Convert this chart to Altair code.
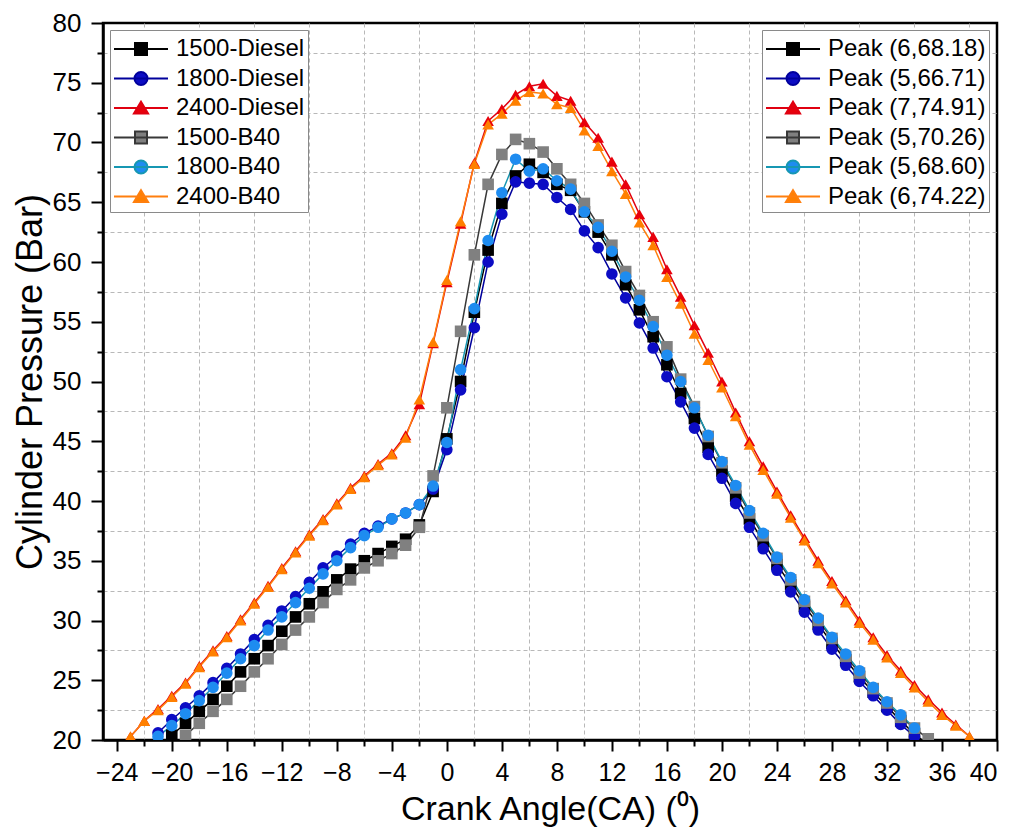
import altair as alt
import pandas as pd

# ---------------- data ----------------
names = ["1500-Diesel", "1800-Diesel", "2400-Diesel", "1500-B40", "1800-B40", "2400-B40"]
peaks = ["Peak (6,68.18)", "Peak (5,66.71)", "Peak (7,74.91)",
         "Peak (5,70.26)", "Peak (5,68.60)", "Peak (6,74.22)"]
start_angles = [-20, -21, -23, -19, -21, -23]

p1500_diesel = [20.4, 21.4, 22.4, 23.4, 24.5, 25.7, 26.8, 27.9, 29.1, 30.3, 31.4, 32.4, 33.4, 34.3,
                35.0, 35.6, 36.2, 36.8, 38.0, 40.8,
                45.2, 50.0, 55.8, 61.0, 64.9, 67.2, 68.18, 67.5, 66.5, 66.0, 64.2, 62.5, 60.6, 58.1,
                56.0, 53.75, 51.4, 49.0, 46.9,
                44.5, 42.5, 40.4, 38.5, 36.6, 34.7, 33.0, 31.2, 29.7, 28.1, 26.7, 25.3, 24.0, 22.8,
                21.6, 20.5, 19.6]
p1800_diesel = [20.6, 21.7, 22.7, 23.7, 24.8, 26.0, 27.2, 28.4, 29.6, 30.8, 32.0, 33.2, 34.4, 35.4,
                36.4, 37.3, 37.9, 38.5, 39.0, 39.7, 41.0,
                44.3, 49.3, 54.5, 60.0, 64.0, 66.71, 66.6, 66.5, 65.4, 64.4, 62.6, 61.2, 59.0, 57.0,
                54.9, 52.8, 50.4, 48.3, 46.1,
                43.9, 41.9, 39.8, 37.8, 36.0, 34.2, 32.4, 30.7, 29.2, 27.6, 26.25, 24.9, 23.7, 22.5,
                21.3, 20.3]
p2400_diesel = [20.3, 21.6, 22.6, 23.7, 24.8, 26.2, 27.5, 28.7, 30.1, 31.5, 32.9, 34.4, 35.8, 37.2,
                38.5, 39.8, 41.1, 42.1, 43.1, 44.0, 45.5, 48.1, 53.2,
                58.3, 63.2, 68.3, 71.8, 72.8, 74.0, 74.7, 74.91, 73.9, 73.5, 71.7, 70.4, 68.4, 66.5,
                64.0, 62.1, 59.4, 57.1, 54.7,
                52.4, 50.0, 47.4, 45.0, 42.9, 40.8, 38.8, 36.9, 35.0, 33.3, 31.7, 30.0, 28.6, 27.1,
                25.8, 24.6, 23.4, 22.3, 21.3, 20.3]
p1500_b40 = [20.4, 21.4, 22.4, 23.4, 24.5, 25.7, 26.8, 28.0, 29.2, 30.3, 31.5, 32.6, 33.4, 34.4,
             35.0, 35.6, 36.3, 37.8, 42.1,
             47.8, 54.2, 60.6, 66.5, 69.0, 70.26, 69.9, 69.2, 67.8, 66.5, 64.9, 63.1, 61.4, 59.2,
             57.2, 55.0, 52.9, 50.2, 47.9,
             45.4, 43.2, 41.1, 39.0, 37.1, 35.2, 33.4, 31.6, 30.0, 28.5, 27.0, 25.6, 24.3, 23.1,
             21.9, 21.0, 20.1]
p1800_b40 = [20.3, 21.2, 22.2, 23.3, 24.4, 25.6, 26.8, 27.9, 29.2, 30.3, 31.5, 32.7, 33.9, 35.0,
             36.1, 37.1, 37.8, 38.5, 39.0, 39.7, 41.25,
             44.9, 51.0, 56.1, 61.8, 65.8, 68.6, 67.6, 67.8, 66.8, 66.1, 64.2, 62.9, 60.9, 58.75,
             56.8, 54.6, 52.2, 50.0, 47.8,
             45.5, 43.3, 41.3, 39.2, 37.3, 35.3, 33.6, 31.75, 30.2, 28.6, 27.2, 25.8, 24.4, 23.2,
             22.1, 21.0]
p2400_b40 = [20.3, 21.6, 22.5, 23.6, 24.7, 26.1, 27.4, 28.6, 30.0, 31.4, 32.8, 34.3, 35.7, 37.1,
             38.4, 39.7, 41.0, 42.0, 43.0, 43.9, 45.3, 48.5, 53.3,
             58.5, 63.4, 68.2, 71.5, 72.4, 73.5, 74.22, 74.1, 73.2, 72.9, 71.0, 69.7, 67.6, 65.7,
             63.3, 61.4, 58.75, 56.5, 54.0,
             51.8, 49.5, 47.1, 44.7, 42.6, 40.6, 38.6, 36.7, 34.8, 33.1, 31.5, 29.8, 28.4, 26.9,
             25.6, 24.4, 23.2, 22.1, 21.2, 20.3]

series_values = [p1500_diesel, p1800_diesel, p2400_diesel, p1500_b40, p1800_b40, p2400_b40]

x_tick_values = list(range(-24, 41, 2))
y_tick_values = [20 + 2.5 * i for i in range(25)]

# ---------------- styles ----------------
line_colors = ["#000000", "#00009c", "#e00010", "#383838", "#1697b2", "#ff7f0e"]
marker_colors = ["#000000", "#0c0cc4", "#e8000b", "#808080", "#1e8cf0", "#ff8000"]
marker_shapes = ["square", "circle", "triangle-up", "square", "circle", "triangle-up"]
LINE = "M-1 0H2.6"
SQ = "M0.4 -0.4H1.2V0.4H0.4Z"
CI = "M1.233 0A0.433 0.433 0 1 1 0.367 0A0.433 0.433 0 1 1 1.233 0Z"
TR = "M0.8 -0.42L1.27 0.36H0.33Z"
legend_paths = [LINE + SQ, LINE + CI, LINE + TR, LINE + SQ, LINE + CI, LINE + TR]

FONT = "Liberation Sans"

rows = []
for name, peak, start, vals in zip(names, peaks, start_angles, series_values):
    for i, v in enumerate(vals):
        rows.append({"series": name, "peak": peak, "angle": start + i, "pressure": v})
df = pd.DataFrame(rows)

x_axis = alt.Axis(
    values=x_tick_values,
    labelExpr="datum.value % 4 == 0 ? datum.label : ''",
    tickSize={"condition": {"test": "datum.value % 4 == 0", "value": 11}, "value": 6},
    gridOpacity={"condition": {"test": "datum.value % 4 == 0", "value": 0}, "value": 1},
    title="Crank Angle(CA) (\u2070)",
    titleFontSize=34,
    titlePadding=7,
    labelPadding=9,
    labelFontSize=25,
)
y_axis = alt.Axis(
    values=y_tick_values,
    labelExpr="datum.value % 5 == 0 ? datum.label : ''",
    tickSize={"condition": {"test": "datum.value % 5 == 0", "value": 12}, "value": 6},
    gridOpacity={"condition": {"test": "datum.value % 5 == 0", "value": 0}, "value": 1},
    title="Cylinder Pressure (Bar)",
    titleFontSize=36,
    titlePadding=3,
    labelPadding=10,
    labelFontSize=26,
)

X = alt.X("angle:Q", scale=alt.Scale(domain=[-25, 40], nice=False, zero=False), axis=x_axis)
Y = alt.Y("pressure:Q", scale=alt.Scale(domain=[20, 80], nice=False, zero=False), axis=y_axis)

base = alt.Chart(df)

lines = base.mark_line(strokeWidth=1.5, clip=True).encode(
    x=X, y=Y,
    stroke=alt.Stroke("series:N", scale=alt.Scale(domain=names, range=line_colors), legend=None),
)

points = base.mark_point(filled=True, opacity=1, size=135, clip=True).encode(
    x=X, y=Y,
    fill=alt.Fill("series:N", scale=alt.Scale(domain=names, range=marker_colors), legend=None),
    shape=alt.Shape("series:N", scale=alt.Scale(domain=names, range=marker_shapes), legend=None),
    order=alt.Order("angle:Q"),
)


def make_legend(lx):
    return alt.Legend(
        title=None, orient="none", legendX=lx, legendY=7,
        fillColor="white", strokeColor="#8a8a8a", padding=3, cornerRadius=0,
        labelFont=FONT, labelFontSize=24, labelColor="black", labelOffset=31,
        symbolSize=900, symbolStrokeWidth=2, rowPadding=1.5, symbolOpacity=1,
        labelLimit=400,
    )


def legend_layer(field, domain, lx):
    lg = make_legend(lx)
    return base.transform_filter("false").mark_point(filled=True, strokeWidth=2, opacity=1).encode(
        x=X, y=Y,
        fill=alt.Fill(f"{field}:N", scale=alt.Scale(domain=domain, range=marker_colors), legend=lg),
        stroke=alt.Stroke(f"{field}:N", scale=alt.Scale(domain=domain, range=line_colors), legend=lg),
        shape=alt.Shape(f"{field}:N", scale=alt.Scale(domain=domain, range=legend_paths), legend=lg),
    )


leg1 = legend_layer("series", names, 7)
leg2 = legend_layer("peak", peaks, 659)

chart = alt.layer(lines, points, leg1, leg2).resolve_scale(
    fill="independent", stroke="independent", shape="independent"
).properties(
    width=894, height=717,
    padding={"left": 95, "top": 15, "right": 4, "bottom": 95},
    autosize=alt.AutoSizeParams(type="none"),
    background="white",
).configure_view(
    stroke="black", strokeWidth=2.5
).configure_axis(
    domainColor="black", domainWidth=2.5,
    tickColor="black", tickWidth=2,
    labelFont=FONT, labelColor="black",
    titleFont=FONT, titleColor="black", titleFontWeight="normal",
    gridColor="#b8b8b8", gridDash=[4, 3], gridWidth=1, grid=True,
)

chart.save("out.html", embed_options={"renderer": "svg", "actions": False})
